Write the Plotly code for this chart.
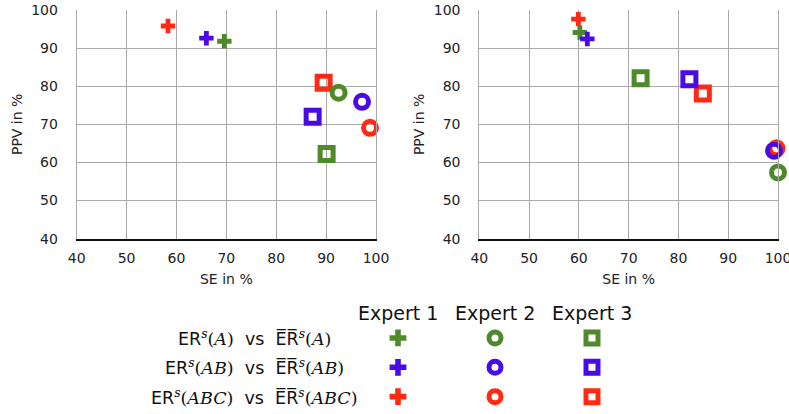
import plotly.graph_objects as go

# ---------------- data ----------------
experts = ["Expert 1", "Expert 2", "Expert 3"]
subsets = ["A", "AB", "ABC"]
symbols = ["cross", "circle-open", "square-open"]

colors = {"A": "#4e8a2a", "AB": "#4a0ae6", "ABC": "#ff2a14"}

# left panel: SE / PPV per expert (Expert 1, 2, 3)
left_se_A = [69.6, 92.5, 90.1]
left_ppv_A = [91.8, 78.3, 62.2]
left_se_AB = [66.0, 97.2, 87.3]
left_ppv_AB = [92.6, 75.9, 72.0]
left_se_ABC = [58.3, 98.8, 89.5]
left_ppv_ABC = [95.8, 69.1, 80.9]

# right panel
right_se_A = [60.2, 100.0, 72.4]
right_ppv_A = [94.1, 57.4, 82.1]
right_se_AB = [61.7, 99.2, 82.2]
right_ppv_AB = [92.4, 63.1, 81.8]
right_se_ABC = [59.9, 99.7, 84.9]
right_ppv_ABC = [97.6, 63.7, 78.1]

axis_ticks = [40, 50, 60, 70, 80, 90, 100]

left = {"A": (left_se_A, left_ppv_A), "AB": (left_se_AB, left_ppv_AB),
        "ABC": (left_se_ABC, left_ppv_ABC)}
right = {"A": (right_se_A, right_ppv_A), "AB": (right_se_AB, right_ppv_AB),
         "ABC": (right_se_ABC, right_ppv_ABC)}

FONT = "DejaVu Sans"
SERIF = "DejaVu Serif"

fig = go.Figure()

draw_order = ["ABC", "A", "AB"]
sizes = [12, 13, 13]
lws = [0, 5, 5]

for panel, (xa, ya) in ((left, ("x", "y")), (right, ("x2", "y2"))):
    for s in draw_order:
        se, ppv = panel[s]
        fig.add_trace(go.Scatter(
            x=se, y=ppv, mode="markers", xaxis=xa, yaxis=ya,
            cliponaxis=False, showlegend=False, hoverinfo="x+y",
            marker=dict(symbol=symbols, size=sizes, color=colors[s], opacity=1,
                        line=dict(width=lws, color=colors[s])),
        ))

# legend table drawn on a hidden categorical axis
for s in subsets:
    fig.add_trace(go.Scatter(
        x=experts, y=[s] * 3, mode="markers", xaxis="x3", yaxis="y3",
        cliponaxis=False, showlegend=False, hoverinfo="skip",
        marker=dict(symbol=symbols, size=[14, 12, 12], color=colors[s], opacity=1,
                    line=dict(width=[0, 5, 5], color=colors[s])),
    ))

axis_common = dict(range=[40, 100], tickvals=axis_ticks, showgrid=True,
                   gridcolor="#aaaaaa", gridwidth=1, zeroline=False,
                   ticks="outside", tickcolor="rgba(0,0,0,0)",
                   tickfont=dict(family=FONT, size=14, color="#222"),
                   fixedrange=True, automargin=False)

xcommon = dict(axis_common, showline=True, linecolor="#111", linewidth=2,
               ticklen=5, ticklabeloverflow="allow",
               title=dict(text="SE in %", font=dict(family=FONT, size=14, color="#222"),
                          standoff=10))
ycommon = dict(axis_common, showline=True, linecolor="#aaaaaa", linewidth=1,
               mirror=True, ticklen=15,
               title=dict(text="PPV in %", font=dict(family=FONT, size=14, color="#222"),
                          standoff=5))

ydom = [1 - 238.7 / 414, 1 - 10 / 414]

fig.update_layout(
    width=789, height=414, autosize=False,
    margin=dict(l=0, r=0, t=0, b=0),
    paper_bgcolor="white", plot_bgcolor="white",
    font=dict(family=FONT, color="#222"),
    xaxis=dict(xcommon, domain=[76.7 / 789, 376 / 789], anchor="y"),
    yaxis=dict(ycommon, domain=ydom, anchor="x"),
    xaxis2=dict(xcommon, domain=[479.3 / 789, 778 / 789], anchor="y2"),
    yaxis2=dict(ycommon, domain=ydom, anchor="x2"),
    xaxis3=dict(domain=[349.5 / 789, 640.5 / 789], range=[-0.5, 2.5],
                type="category", categoryorder="array", categoryarray=experts,
                visible=False, anchor="y3", fixedrange=True),
    yaxis3=dict(domain=[1 - 411.3 / 414, 1 - 323.3 / 414], range=[2.5, -0.5],
                type="category", categoryorder="array", categoryarray=subsets,
                visible=False, anchor="x3", fixedrange=True),
)

# column headers
for e in experts:
    fig.add_annotation(x=e, xref="x3", y=1 - 313 / 414, yref="paper",
                       text=e, showarrow=False,
                       font=dict(family=FONT, size=19, color="#111"),
                       xanchor="center", yanchor="middle")

# row labels
OV = "E\u0305R\u0305"
for s in subsets:
    math = f"<span style=\"font-family:'{SERIF}'\">(<i>{s}</i>)</span>"
    sup = f"<sup><i><span style=\"font-family:'{SERIF}'\">s</span></i></sup>"
    txt = f"ER{sup}{math}  vs  {OV}{sup}{math}"
    fig.add_annotation(x=254 / 789, xref="paper", y=s, yref="y3",
                       text=txt, showarrow=False,
                       font=dict(family=FONT, size=17.5, color="#111"),
                       xanchor="center", yanchor="middle")

fig.write_html("out.html")
